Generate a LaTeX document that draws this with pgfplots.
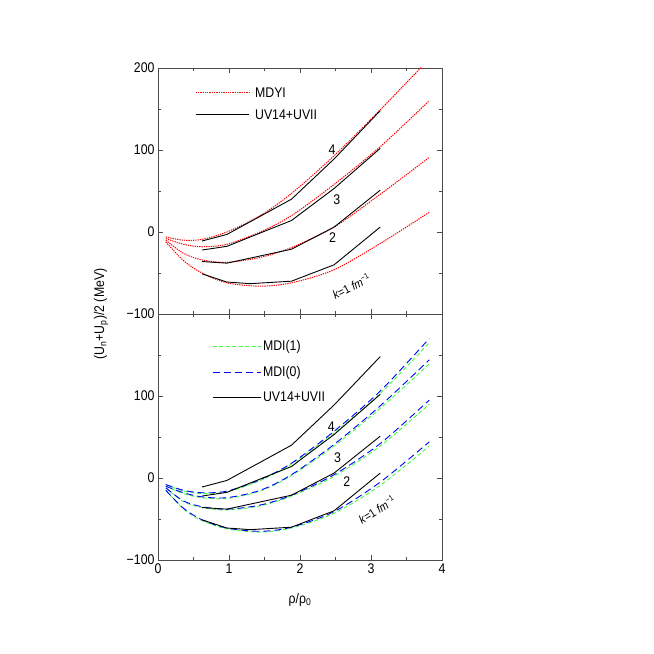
\documentclass[border=0pt]{standalone}
\usepackage{fontspec}
\setmainfont{Liberation Sans}[FakeStretch=0.88]
\usepackage{pgfplots}
\pgfplotsset{compat=1.18}

\definecolor{mgreen}{rgb}{0.25,1,0.25}

\pgfplotsset{
  panel/.style={
    scale only axis, width=284pt, height=246pt,
    xmin=0, xmax=4, ymin=-100, ymax=200,
    xtick={0,1,2,3,4}, ytick={-100,0,100,200},
    minor x tick num=1, minor y tick num=1,
    tick align=inside, tick pos=both, ticklabel pos=left,
    major tick length=5pt, minor tick length=3pt,
    axis line style={line width=0.8pt, black!70},
    every tick/.style={black!70, line width=0.6pt},
    tick label style={font=\fontsize{14}{16}\selectfont},
    label style={font=\fontsize{14}{16}\selectfont},
    /pgf/number format/assume math mode=true,
    legend cell align=left,
  },
  leglong/.style={legend image code/.code={\draw[##1] (0pt,0.5pt) -- (53pt,0.5pt);}},
  legshort/.style={legend image code/.code={\draw[##1] (0pt,0pt) -- (48pt,0pt);}},
  mdyi/.style={red, line width=1pt, dash pattern=on 1.3pt off 1pt, smooth},
  uv/.style={black, line width=0.9pt},
  mdione/.style={mgreen, line width=0.9pt, dash pattern=on 4pt off 2.5pt, smooth},
  mdizero/.style={blue, line width=0.9pt, dash pattern=on 7pt off 4pt, smooth},
}

\begin{document}
\begin{tikzpicture}
\path[use as bounding box] (0,0) rectangle (654pt,654pt);

% upper panel: MDYI against UV14+UVII
\begin{axis}[panel, leglong, at={(158pt,340pt)}, anchor=south west,
    xticklabels={}, yticklabels={−100,0,100,200},
    legend style={draw=none, fill=none, at={(rel axis cs:0.13,0.93)}, anchor=north west,
      row sep=7pt, column sep=4pt, inner sep=0pt, font=\fontsize{14}{16}\selectfont}]
\addlegendimage{mdyi}
\addlegendentry{MDYI}
\addlegendimage{uv}
\addlegendentry{UV14+UVII}
% MDYI, k = 1..4 fm^-1
\addplot[mdyi, forget plot] coordinates {(0.11,-12)(0.36,-35)(0.62,-50)(0.97,-62)(1.44,-66)(1.88,-62)(2.48,-46)(3.13,-14)(3.82,24)};
\addplot[mdyi, forget plot] coordinates {(0.11,-10)(0.36,-26)(0.62,-34)(0.97,-37)(1.44,-31)(1.88,-19)(2.48,6)(3.13,46)(3.82,91)};
\addplot[mdyi, forget plot] coordinates {(0.11,-8)(0.36,-15)(0.62,-18)(0.97,-15)(1.44,0)(1.88,20)(2.48,58)(3.13,104)(3.82,160)};
\addplot[mdyi, forget plot] coordinates {(0.11,-6)(0.36,-10)(0.62,-9)(0.97,0)(1.44,20)(1.88,47)(2.48,93)(3.13,149)(3.70,200)(3.90,216)};
% UV14+UVII
\addplot[uv, forget plot] coordinates {(0.62,-51)(0.97,-61)(1.3,-63)(1.88,-60)(2.48,-40)(3.13,6)};
\addplot[uv, forget plot] coordinates {(0.62,-36)(0.97,-38)(1.88,-21)(2.48,6)(3.13,51)};
\addplot[uv, forget plot] coordinates {(0.62,-22)(0.97,-17.5)(1.88,14)(2.48,53)(3.13,102)};
\addplot[uv, forget plot] coordinates {(0.62,-11)(0.97,-3)(1.88,40)(2.48,89)(3.13,148)};
\node[font=\fontsize{14}{16}\selectfont] at (axis cs:2.45,100) {4};
\node[font=\fontsize{14}{16}\selectfont] at (axis cs:2.52,39) {3};
\node[font=\fontsize{14}{16}\selectfont] at (axis cs:2.46,-7) {2};
\node[rotate=27, font=\fontsize{12}{14}\selectfont] at (axis cs:2.72,-66) {\textit{k}=1 \textit{fm}\raisebox{0.7ex}{\fontsize{8}{9}\selectfont −1}};
\end{axis}

% lower panel: MDI(1), MDI(0) against UV14+UVII
\begin{axis}[panel, legshort, at={(158pt,94pt)}, anchor=south west,
    yticklabels={−100,0,100,{}},
    xlabel={ρ/ρ\textsubscript{0}},
    xlabel style={at={(rel axis cs:0.5,-0.163)}, anchor=center},
    ylabel={(U\textsubscript{n}+U\textsubscript{p})/2 (MeV)},
    ylabel style={at={(rel axis cs:-0.2,1)}, anchor=center},
    legend style={draw=none, fill=none, at={(rel axis cs:0.19,0.9)}, anchor=north west,
      row sep=10pt, inner sep=0pt, font=\fontsize{14}{16}\selectfont}]
\addlegendimage{mdione}
\addlegendentry{MDI(1)}
\addlegendimage{mdizero}
\addlegendentry{MDI(0)}
\addlegendimage{uv}
\addlegendentry{UV14+UVII}
% MDI(1)
\addplot[mdione, forget plot] coordinates {(0.11,-15)(0.36,-38)(0.62,-52)(0.97,-62)(1.44,-66)(1.88,-61)(2.48,-43)(3.13,-9)(3.82,39)};
\addplot[mdione, forget plot] coordinates {(0.11,-12)(0.36,-29)(0.62,-36)(0.97,-39)(1.44,-34)(1.88,-22)(2.48,2)(3.13,39)(3.82,90)};
\addplot[mdione, forget plot] coordinates {(0.11,-10)(0.36,-19)(0.62,-24)(0.97,-25)(1.44,-16)(1.88,3)(2.48,39)(3.13,85)(3.82,139)};
\addplot[mdione, forget plot] coordinates {(0.11,-8)(0.36,-16)(0.62,-19)(0.97,-17)(1.44,-3)(1.88,17)(2.48,55)(3.13,103)(3.82,165)};
% MDI(0)
\addplot[mdizero, forget plot] coordinates {(0.11,-15)(0.36,-37)(0.62,-51)(0.97,-61)(1.44,-65)(1.88,-60)(2.48,-41)(3.13,-5)(3.82,44)};
\addplot[mdizero, forget plot] coordinates {(0.11,-12)(0.36,-28)(0.62,-35)(0.97,-38)(1.44,-33)(1.88,-21)(2.48,4)(3.13,42)(3.82,95)};
\addplot[mdizero, forget plot] coordinates {(0.11,-10)(0.36,-18)(0.62,-23)(0.97,-24)(1.44,-15)(1.88,4)(2.48,41)(3.13,88)(3.82,144)};
\addplot[mdizero, forget plot] coordinates {(0.11,-8)(0.36,-15)(0.62,-18)(0.97,-16)(1.44,-2)(1.88,18)(2.48,57)(3.13,106)(3.82,170)};
% UV14+UVII
\addplot[uv, forget plot] coordinates {(0.62,-51)(0.97,-61)(1.3,-63)(1.88,-60)(2.48,-40)(3.13,6)};
\addplot[uv, forget plot] coordinates {(0.62,-36)(0.97,-38)(1.88,-21)(2.48,6)(3.13,51)};
\addplot[uv, forget plot] coordinates {(0.62,-22)(0.97,-17.5)(1.88,14)(2.48,53)(3.13,102)};
\addplot[uv, forget plot] coordinates {(0.62,-11)(0.97,-3)(1.88,40)(2.48,89)(3.13,148)};
\node[font=\fontsize{14}{16}\selectfont] at (axis cs:2.44,63) {4};
\node[font=\fontsize{14}{16}\selectfont] at (axis cs:2.53,25) {3};
\node[font=\fontsize{14}{16}\selectfont] at (axis cs:2.66,-5) {2};
\node[rotate=32, font=\fontsize{12}{14}\selectfont] at (axis cs:3.08,-39) {\textit{k}=1 \textit{fm}\raisebox{0.7ex}{\fontsize{8}{9}\selectfont −1}};
\end{axis}
\end{tikzpicture}
\end{document}
